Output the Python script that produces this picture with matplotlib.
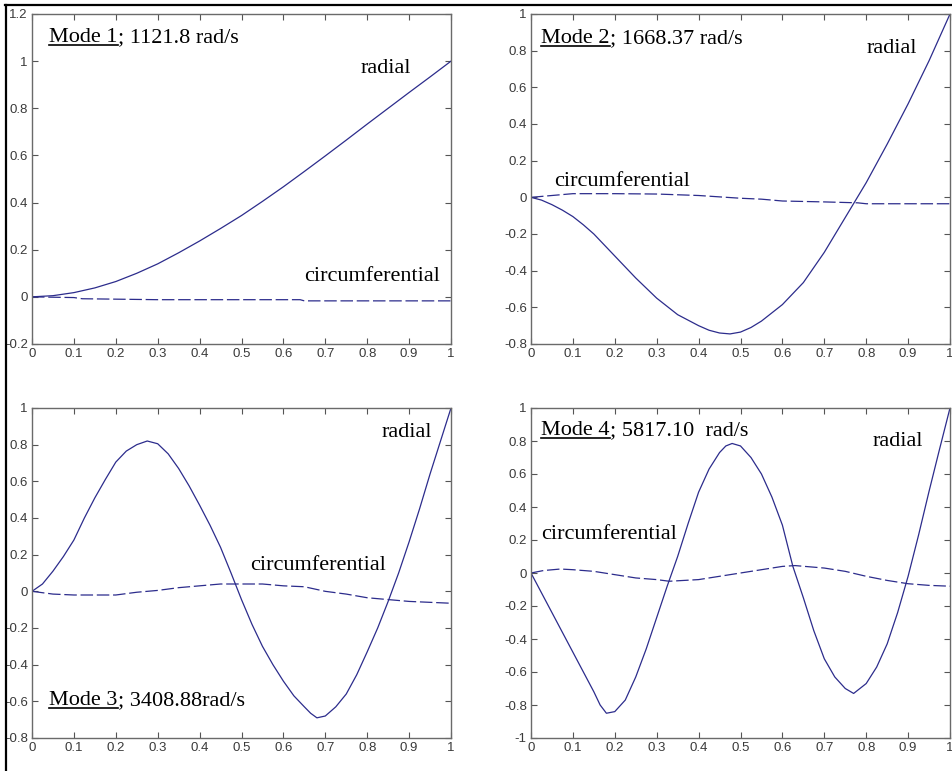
import matplotlib
matplotlib.use("Agg")
import matplotlib.pyplot as plt
import matplotlib.transforms as mtransforms
from matplotlib.lines import Line2D
from matplotlib.ticker import FuncFormatter

# mode shapes along the normalised length
x_m1_rad = [0, 0.05, 0.1, 0.15, 0.2, 0.25, 0.3, 0.35, 0.4, 0.45, 0.5, 0.55, 0.6, 0.65, 0.7, 0.75, 0.8, 0.85, 0.9, 0.95, 1]
y_m1_rad = [0, 0.005, 0.018, 0.038, 0.065, 0.10, 0.14, 0.187, 0.237, 0.29, 0.345, 0.405, 0.467, 0.532, 0.598, 0.665, 0.733, 0.80, 0.867, 0.933, 1.0]
x_m1_circ = [0, 0.1, 0.12, 0.3, 0.64, 0.65, 1]
y_m1_circ = [0, -0.003, -0.008, -0.012, -0.012, -0.017, -0.017]

x_m2_rad = [0, 0.025, 0.05, 0.075, 0.1, 0.125, 0.15, 0.175, 0.2, 0.25, 0.3, 0.35, 0.4, 0.425, 0.45, 0.475,
            0.5, 0.525, 0.55, 0.6, 0.65, 0.7, 0.75, 0.8, 0.85, 0.9, 0.95, 1]
y_m2_rad = [0, -0.015, -0.04, -0.07, -0.105, -0.15, -0.20, -0.26, -0.32, -0.44, -0.55, -0.64, -0.70, -0.725, -0.74, -0.745,
            -0.735, -0.71, -0.675, -0.585, -0.465, -0.30, -0.11, 0.08, 0.29, 0.51, 0.745, 1.0]
x_m2_circ = [0, 0.05, 0.1, 0.2, 0.3, 0.4, 0.5, 0.55, 0.6, 0.7, 0.78, 0.8, 1]
y_m2_circ = [0, 0.01, 0.02, 0.02, 0.018, 0.01, -0.005, -0.01, -0.02, -0.025, -0.03, -0.035, -0.035]

x_m3_rad = [0, 0.025, 0.05, 0.075, 0.1, 0.125, 0.15, 0.175, 0.2, 0.225, 0.25, 0.275, 0.3, 0.325, 0.35, 0.375, 0.4,
            0.425, 0.45, 0.475, 0.5, 0.525, 0.55, 0.575, 0.6, 0.625, 0.65, 0.665, 0.68, 0.7, 0.725, 0.75, 0.775,
            0.8, 0.825, 0.85, 0.875, 0.9, 0.925, 0.95, 0.975, 1]
y_m3_rad = [0, 0.04, 0.11, 0.19, 0.28, 0.40, 0.51, 0.61, 0.705, 0.765, 0.80, 0.82, 0.805, 0.75, 0.67, 0.575, 0.47,
            0.36, 0.24, 0.10, -0.045, -0.18, -0.30, -0.40, -0.49, -0.57, -0.63, -0.665, -0.69, -0.68, -0.63, -0.56, -0.455,
            -0.33, -0.20, -0.055, 0.10, 0.27, 0.45, 0.64, 0.82, 1.0]
x_m3_circ = [0, 0.05, 0.1, 0.2, 0.25, 0.3, 0.35, 0.4, 0.45, 0.5, 0.55, 0.6, 0.65, 0.7, 0.75, 0.8, 0.85, 0.9, 1]
y_m3_circ = [0, -0.015, -0.02, -0.02, -0.005, 0.005, 0.02, 0.03, 0.04, 0.04, 0.04, 0.03, 0.025, 0.0, -0.015, -0.035, -0.045, -0.055, -0.065]

x_m4_rad = [0, 0.025, 0.05, 0.075, 0.1, 0.125, 0.15, 0.165, 0.18, 0.2, 0.225, 0.25, 0.275, 0.3, 0.325, 0.35, 0.375,
            0.4, 0.425, 0.45, 0.465, 0.48, 0.5, 0.525, 0.55, 0.575, 0.6, 0.625, 0.65, 0.675, 0.7, 0.725, 0.75, 0.77,
            0.8, 0.825, 0.85, 0.875, 0.9, 0.925, 0.95, 0.975, 1]
y_m4_rad = [0, -0.12, -0.24, -0.36, -0.48, -0.60, -0.72, -0.80, -0.85, -0.84, -0.77, -0.63, -0.46, -0.27, -0.08, 0.10, 0.30,
            0.49, 0.63, 0.73, 0.77, 0.785, 0.77, 0.70, 0.60, 0.46, 0.29, 0.04, -0.15, -0.35, -0.52, -0.63, -0.70, -0.73,
            -0.67, -0.57, -0.43, -0.24, -0.02, 0.23, 0.495, 0.75, 1.0]
x_m4_circ = [0, 0.03, 0.07, 0.1, 0.15, 0.2, 0.25, 0.3, 0.33, 0.4, 0.45, 0.5, 0.55, 0.6, 0.63, 0.7, 0.75, 0.8, 0.85, 0.9, 0.95, 1]
y_m4_circ = [0, 0.015, 0.024, 0.02, 0.01, -0.01, -0.03, -0.04, -0.05, -0.04, -0.02, 0.0, 0.02, 0.04, 0.045, 0.03, 0.01, -0.02, -0.045, -0.065, -0.075, -0.08]

mode_names = ["Mode 1", "Mode 2", "Mode 3", "Mode 4"]
freq_texts = ["; 1121.8 rad/s", "; 1668.37 rad/s", "; 3408.88rad/s", "; 5817.10  rad/s"]
y_limits = [(-0.2, 1.2), (-0.8, 1.0), (-0.8, 1.0), (-1.0, 1.0)]
y_steps = [0.2, 0.2, 0.2, 0.2]

# label placement (axes fraction): title, radial, circumferential
title_pos = [(0.041, 0.915), (0.024, 0.912), (0.041, 0.10), (0.024, 0.918)]
radial_pos = [(0.785, 0.82), (0.80, 0.882), (0.835, 0.912), (0.814, 0.885)]
circ_pos = [(0.649, 0.19), (0.055, 0.479), (0.52, 0.509), (0.024, 0.603)]

line_col = "#2c2c8c"
serif = "Liberation Serif"
fsize = 16

fig = plt.figure(figsize=(9.52, 7.71), dpi=100)
W, H = 952, 771
boxes = [(32, 14), (531, 14), (32, 408), (531, 408)]
aw, ah = 419, 330

data = [(x_m1_rad, y_m1_rad, x_m1_circ, y_m1_circ),
        (x_m2_rad, y_m2_rad, x_m2_circ, y_m2_circ),
        (x_m3_rad, y_m3_rad, x_m3_circ, y_m3_circ),
        (x_m4_rad, y_m4_rad, x_m4_circ, y_m4_circ)]

axes = []
titles = []
for i, (left, top) in enumerate(boxes):
    ax = fig.add_axes([left / W, 1 - (top + ah) / H, aw / W, ah / H])
    xr, yr, xc, yc = data[i]
    ax.plot(xr, yr, color=line_col, lw=0.9)
    ax.plot(xc, yc, color=line_col, lw=0.9, dashes=(10, 3))

    lo, hi = y_limits[i]
    ax.set_xlim(0, 1)
    ax.set_ylim(lo, hi)
    ax.set_xticks([k / 10 for k in range(11)])
    n = int(round((hi - lo) / y_steps[i]))
    ax.set_yticks([lo + k * y_steps[i] for k in range(n + 1)])
    fmt = FuncFormatter(lambda v, p: "%g" % round(v, 2))
    ax.xaxis.set_major_formatter(fmt)
    ax.yaxis.set_major_formatter(fmt)
    ax.tick_params(direction="in", length=4, width=0.8, top=True, right=True,
                   labelsize=9.5, labelcolor="#3a3a3a", color="#555555", pad=3)
    for lab in ax.get_xticklabels() + ax.get_yticklabels():
        lab.set_family("Liberation Sans")
    for sp in ax.spines.values():
        sp.set_color("#6a6a6a")
        sp.set_linewidth(1.0)

    t = ax.text(title_pos[i][0], title_pos[i][1], mode_names[i], transform=ax.transAxes,
                family=serif, fontsize=fsize, va="baseline", ha="left")
    ax.annotate(freq_texts[i], xy=(1, 0), xycoords=t, family=serif, fontsize=fsize,
                va="bottom", ha="left")
    ax.text(radial_pos[i][0], radial_pos[i][1], "radial", transform=ax.transAxes,
            family=serif, fontsize=fsize, va="baseline", ha="left")
    ax.text(circ_pos[i][0], circ_pos[i][1], "circumferential", transform=ax.transAxes,
            family=serif, fontsize=fsize, va="baseline", ha="left")
    axes.append(ax)
    titles.append(t)

# underline the mode names
fig.canvas.draw()
renderer = fig.canvas.get_renderer()
for ax, t, pos in zip(axes, titles, title_pos):
    bb = t.get_window_extent(renderer)
    inv = ax.transAxes.inverted()
    x0 = inv.transform((bb.x0, 0))[0]
    x1 = inv.transform((bb.x1, 0))[0]
    trans = mtransforms.offset_copy(ax.transAxes, fig=fig, y=-3, units="dots")
    ax.add_line(Line2D([x0, x1], [pos[1], pos[1]], transform=trans,
                       color="black", lw=1.2, clip_on=False))

# frame lines on the left and top edge
fig.add_artist(Line2D([6 / W, 6 / W], [0, 1 - 5 / H], color="black", lw=1.6))
fig.add_artist(Line2D([5 / W, 1], [1 - 5 / H, 1 - 5 / H], color="black", lw=1.6))

fig.savefig("out.png", dpi=100)
